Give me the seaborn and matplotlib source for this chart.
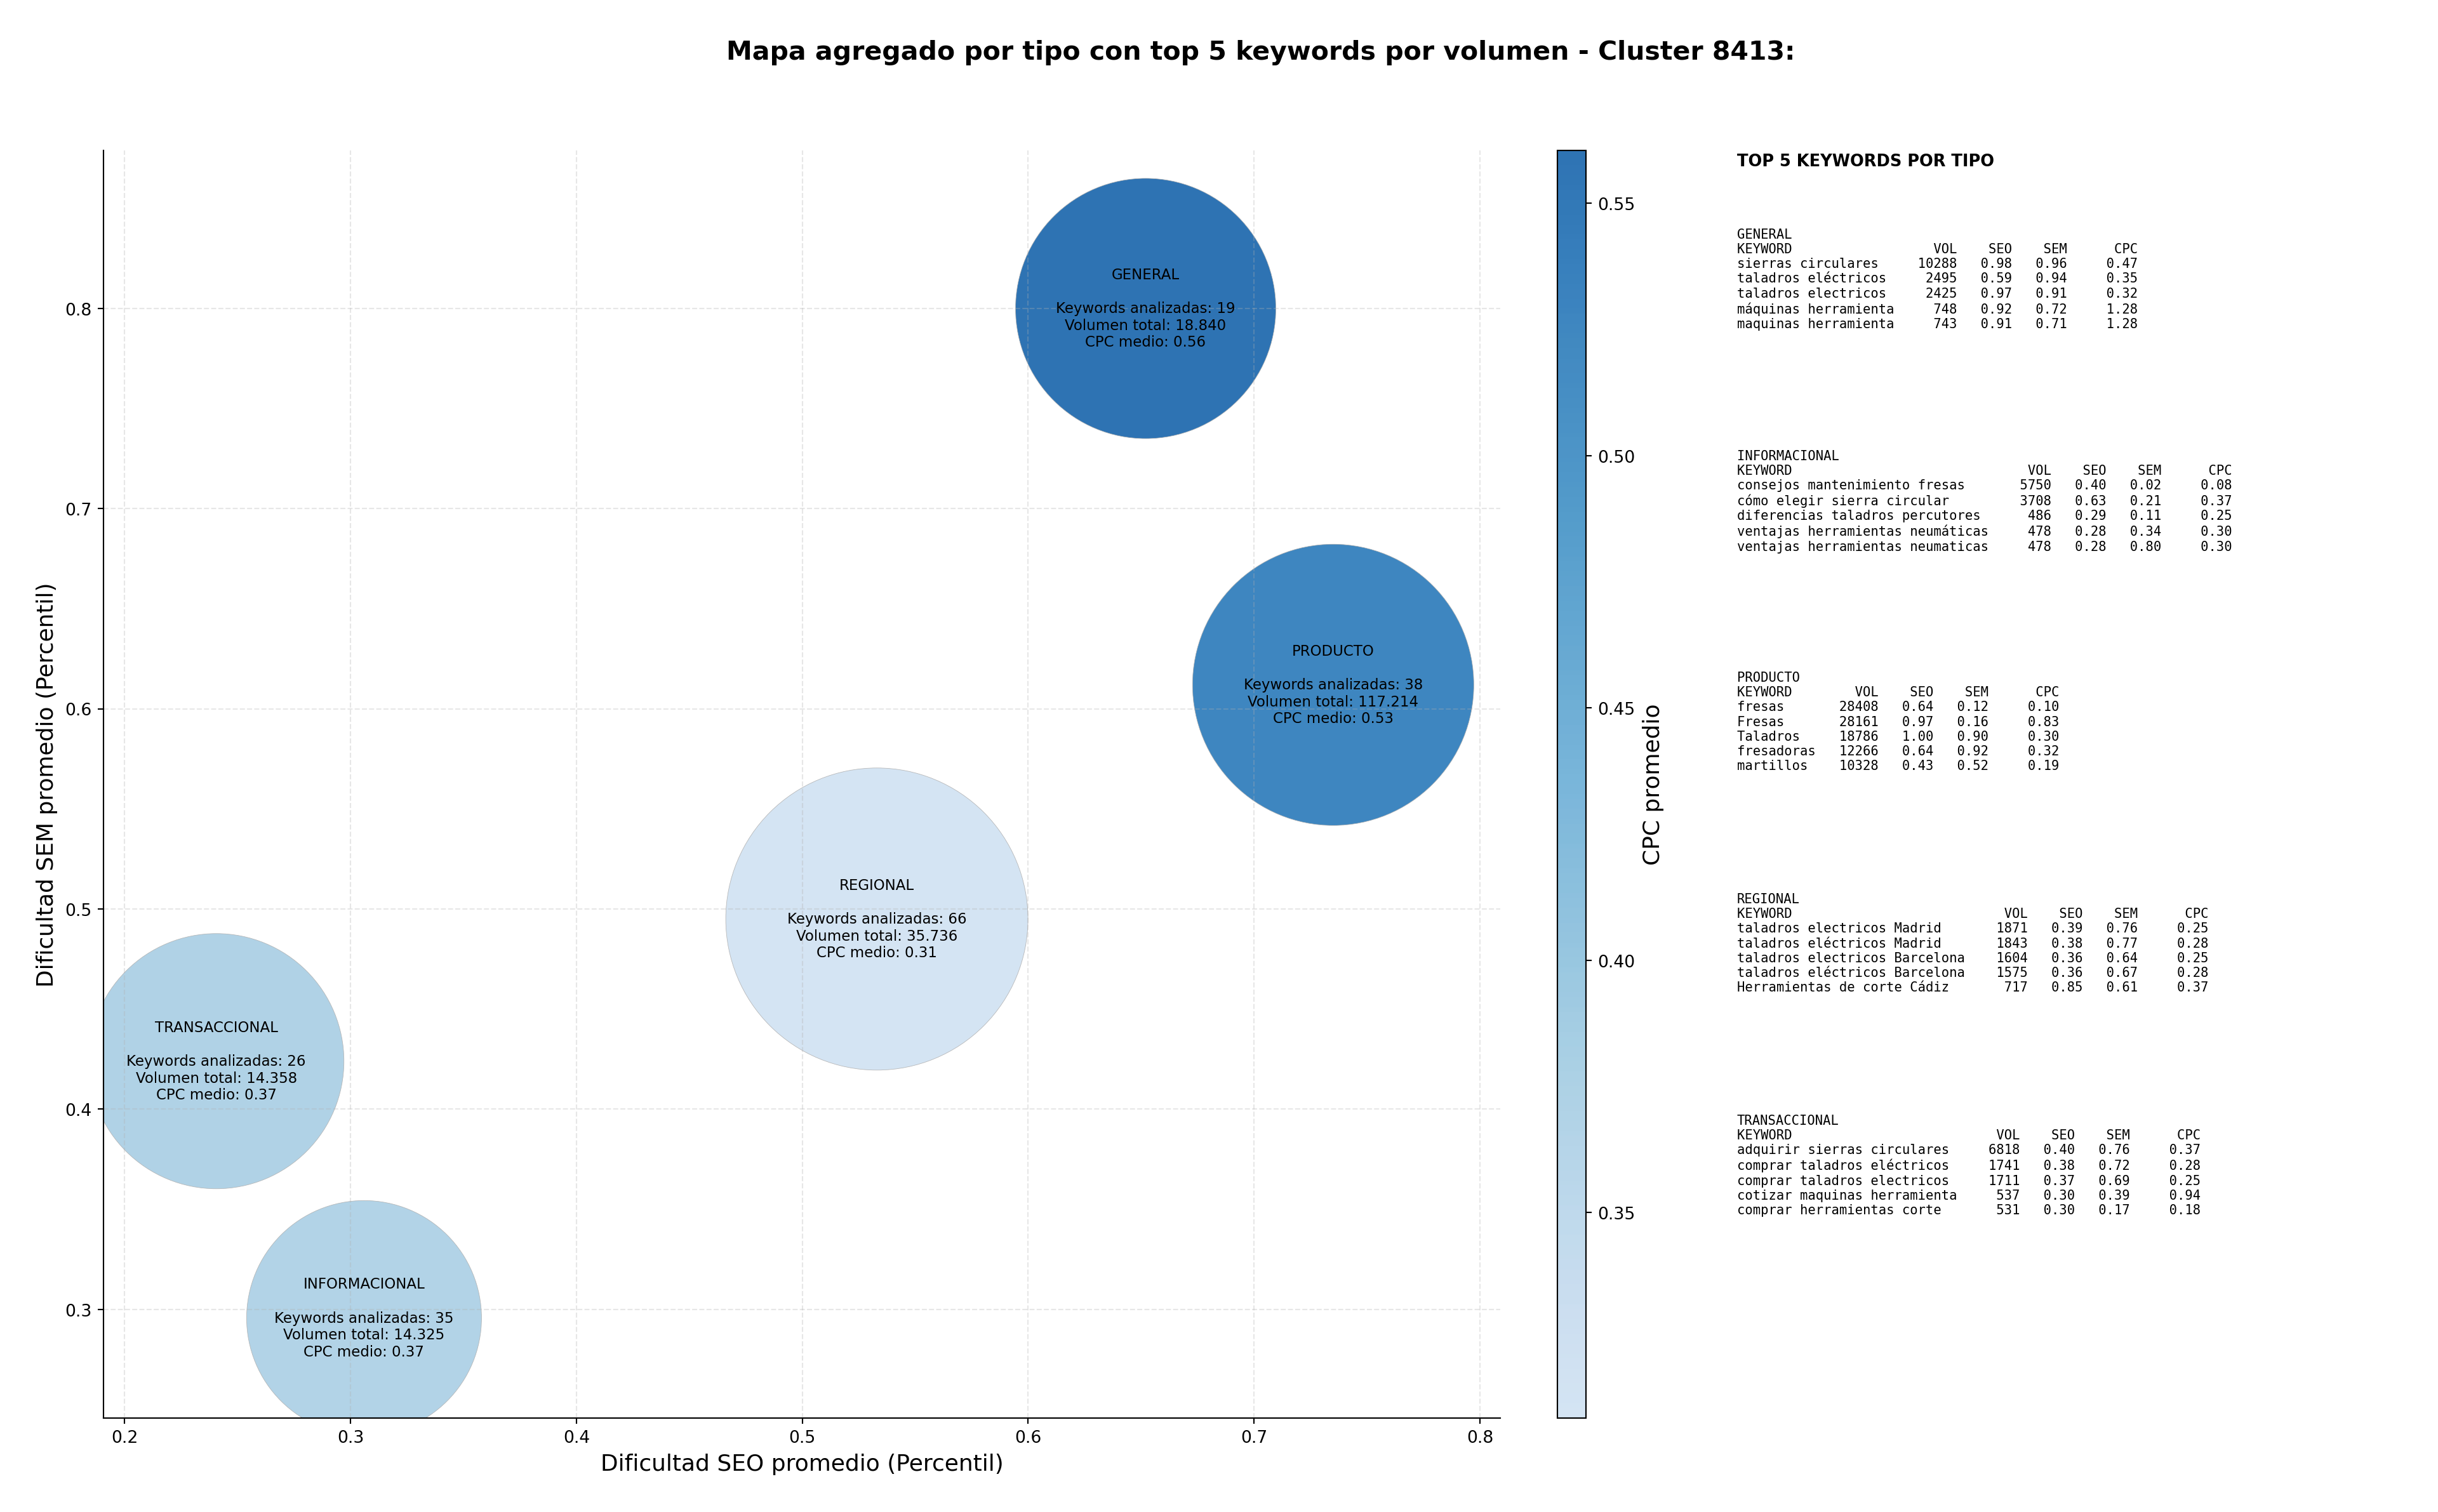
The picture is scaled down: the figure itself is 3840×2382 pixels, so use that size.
import numpy as np
import pandas as pd
import seaborn as sns
import matplotlib.pyplot as plt
from matplotlib.colors import LinearSegmentedColormap, Normalize
from matplotlib.cm import ScalarMappable

# datos agregados por tipo
tipos = ["GENERAL", "INFORMACIONAL", "PRODUCTO", "REGIONAL", "TRANSACCIONAL"]
seo_medio = [0.652, 0.306, 0.735, 0.533, 0.2406]
sem_medio = [0.800, 0.2957, 0.612, 0.495, 0.424]
cpc_medio = [0.5605, 0.368, 0.528, 0.3093, 0.371]
n_keywords = [19, 35, 38, 66, 26]
volumen_total = [18840, 14325, 117214, 35736, 14358]
tamano_burbuja = [23640, 19250, 27600, 31860, 22725]

# top 5 keywords por tipo: (keyword, vol, seo, sem, cpc)
top_general = [
    ("sierras circulares", 10288, 0.98, 0.96, 0.47),
    ("taladros eléctricos", 2495, 0.59, 0.94, 0.35),
    ("taladros electricos", 2425, 0.97, 0.91, 0.32),
    ("máquinas herramienta", 748, 0.92, 0.72, 1.28),
    ("maquinas herramienta", 743, 0.91, 0.71, 1.28),
]
top_informacional = [
    ("consejos mantenimiento fresas", 5750, 0.40, 0.02, 0.08),
    ("cómo elegir sierra circular", 3708, 0.63, 0.21, 0.37),
    ("diferencias taladros percutores", 486, 0.29, 0.11, 0.25),
    ("ventajas herramientas neumáticas", 478, 0.28, 0.34, 0.30),
    ("ventajas herramientas neumaticas", 478, 0.28, 0.80, 0.30),
]
top_producto = [
    ("fresas", 28408, 0.64, 0.12, 0.10),
    ("Fresas", 28161, 0.97, 0.16, 0.83),
    ("Taladros", 18786, 1.00, 0.90, 0.30),
    ("fresadoras", 12266, 0.64, 0.92, 0.32),
    ("martillos", 10328, 0.43, 0.52, 0.19),
]
top_regional = [
    ("taladros electricos Madrid", 1871, 0.39, 0.76, 0.25),
    ("taladros eléctricos Madrid", 1843, 0.38, 0.77, 0.28),
    ("taladros electricos Barcelona", 1604, 0.36, 0.64, 0.25),
    ("taladros eléctricos Barcelona", 1575, 0.36, 0.67, 0.28),
    ("Herramientas de corte Cádiz", 717, 0.85, 0.61, 0.37),
]
top_transaccional = [
    ("adquirir sierras circulares", 6818, 0.40, 0.76, 0.37),
    ("comprar taladros eléctricos", 1741, 0.38, 0.72, 0.28),
    ("comprar taladros electricos", 1711, 0.37, 0.69, 0.25),
    ("cotizar maquinas herramienta", 537, 0.30, 0.39, 0.94),
    ("comprar herramientas corte", 531, 0.30, 0.17, 0.18),
]
tops = [top_general, top_informacional, top_producto, top_regional, top_transaccional]

df = pd.DataFrame({
    "tipo": tipos,
    "seo": seo_medio,
    "sem": sem_medio,
    "cpc": cpc_medio,
    "n": n_keywords,
    "vol": volumen_total,
    "tam": tamano_burbuja,
})

# paleta azul recortada
cmap = LinearSegmentedColormap.from_list("azules", plt.cm.Blues(np.linspace(0.2, 0.8, 256)))
norm = Normalize(vmin=df["cpc"].min(), vmax=df["cpc"].max())

fig = plt.figure(figsize=(20, 12.41), dpi=192)
ax = fig.add_axes([0.0424, 0.0621, 0.573, 0.8382])
cax = fig.add_axes([0.6388, 0.0621, 0.0117, 0.8382])

sns.scatterplot(data=df, x="seo", y="sem", hue="cpc", size="tam",
                sizes={v: v for v in tamano_burbuja},
                palette=cmap, hue_norm=norm, alpha=0.9,
                edgecolor="#b0b0b0", linewidth=0.3, legend=False, ax=ax)

# etiquetas dentro de las burbujas
for _, r in df.iterrows():
    vol_txt = f"{r['vol']:,}".replace(",", ".")
    txt = (f"{r['tipo']}\n\nKeywords analizadas: {r['n']}\n"
           f"Volumen total: {vol_txt}\nCPC medio: {r['cpc']:.2f}")
    ax.text(r["seo"], r["sem"], txt, ha="center", va="center",
            multialignment="center", fontsize=8.6)

ax.set_xlim(0.1906, 0.809)
ax.set_ylim(0.2457, 0.879)
ax.grid(True, linestyle="--", alpha=0.3)
ax.spines["top"].set_visible(False)
ax.spines["right"].set_visible(False)
ax.set_xlabel("Dificultad SEO promedio (Percentil)", fontsize=13.5)
ax.set_ylabel("Dificultad SEM promedio (Percentil)", fontsize=13.5)

sm = ScalarMappable(norm=norm, cmap=cmap)
cbar = fig.colorbar(sm, cax=cax, alpha=0.9)
cbar.set_label("CPC promedio", fontsize=13.5)

fig.suptitle("Mapa agregado por tipo con top 5 keywords por volumen - Cluster 8413:",
             fontsize=15.4, fontweight="bold", x=0.517, y=0.965, va="center")

# panel de texto con top keywords
fig.text(0.7125, 0.893, "TOP 5 KEYWORDS POR TIPO", fontsize=9.6,
         fontweight="bold", va="center")

y0 = 0.849
for tipo, filas in zip(tipos, tops):
    w = max(len(f[0]) for f in filas)
    lineas = [tipo, f"{'KEYWORD':<{w}}{'VOL':>8}{'SEO':>7}{'SEM':>7}{'CPC':>9}"]
    for kw, vol, seo, sem, cpc in filas:
        lineas.append(f"{kw:<{w}}{vol:>8}{seo:>7.2f}{sem:>7.2f}{cpc:>9.2f}")
    fig.text(0.7125, y0, "\n".join(lineas), family="DejaVu Sans Mono",
             fontsize=7.7, va="top", linespacing=1.2)
    y0 -= 0.1465

fig.savefig("out.png", dpi=192)
